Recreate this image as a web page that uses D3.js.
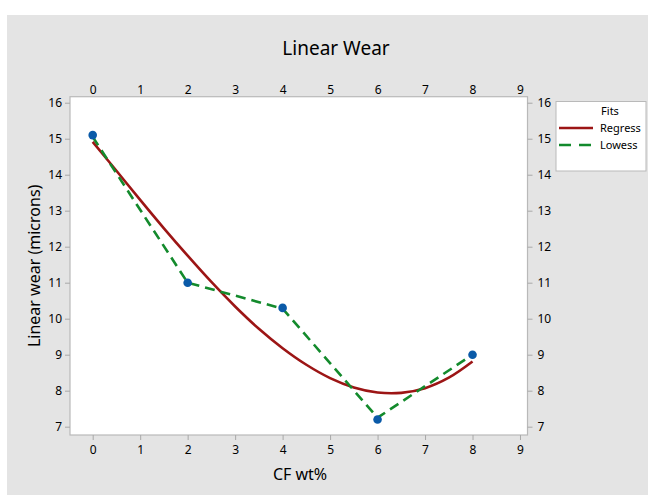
<!DOCTYPE html>
<html><head><meta charset="utf-8">
<script src="https://cdn.jsdelivr.net/npm/d3@7"></script>
<style>body{margin:0;background:#fff}svg{display:block}text{font-family:"Noto Sans","Open Sans",sans-serif}</style>
</head><body><svg id="c" width="648" height="495"></svg>
<script>
// Observed data
const cfWt = [0, 2, 4, 6, 8];
const wear = [15.1, 11.0, 10.3, 7.2, 9.0];
// Regression fit curve
const regX = [0, 0.5, 1, 1.5, 2, 2.5, 3, 3.5, 4, 4.5, 5, 5.5, 6, 6.5, 7, 7.5, 8];
const regY = [14.91, 14.11, 13.30, 12.51, 11.75, 11.02, 10.34, 9.72, 9.18, 8.72, 8.35, 8.09, 7.95, 7.94, 8.07, 8.36, 8.81];
// Lowess fit
const lowX = [0, 2, 4, 6, 8];
const lowY = [15.05, 11.0, 10.28, 7.25, 9.0];
const xTicks = [0,1,2,3,4,5,6,7,8,9];
const yTicks = [7,8,9,10,11,12,13,14,15,16];
const legendItems = ["Regress", "Lowess"];

const svg = d3.select("#c");
svg.append("rect").attr("x",7).attr("y",15).attr("width",641).attr("height",480).attr("fill","#e4e4e4");

const L=70, R=527.5, T=96.7, B=435;
const x = d3.scaleLinear().domain([-0.478, 9.158]).range([L, R]);
const y = d3.scaleLinear().domain([6.769, 16.167]).range([B, T]);

svg.append("rect").attr("x",L).attr("y",T).attr("width",R-L).attr("height",B-T)
  .attr("fill","#fff").attr("stroke","#b9b9b9").attr("stroke-width",1.2);

function styleAxis(g){
  g.select(".domain").remove();
  g.selectAll(".tick line").attr("stroke","#a8a8a8");
  g.selectAll(".tick text").attr("fill","#000").style("font-size","12px");
}
svg.append("g").attr("transform",`translate(0,${B})`)
  .call(d3.axisBottom(x).tickValues(xTicks).tickSize(5).tickPadding(5)).call(styleAxis);
svg.append("g").attr("transform",`translate(0,${T})`)
  .call(d3.axisTop(x).tickValues(xTicks).tickSize(0).tickPadding(3)).call(styleAxis);
svg.append("g").attr("transform",`translate(${L},0)`)
  .call(d3.axisLeft(y).tickValues(yTicks).tickSize(5).tickPadding(3)).call(styleAxis);
svg.append("g").attr("transform",`translate(${R},0)`)
  .call(d3.axisRight(y).tickValues(yTicks).tickSize(5).tickPadding(5)).call(styleAxis);

const regPts = regX.map((v,i)=>[v,regY[i]]);
const lowPts = lowX.map((v,i)=>[v,lowY[i]]);
svg.append("path").attr("d", d3.line().x(d=>x(d[0])).y(d=>y(d[1])).curve(d3.curveCatmullRom)(regPts))
  .attr("fill","none").attr("stroke","#9c1515").attr("stroke-width",2.6);
svg.append("path").attr("d", d3.line().x(d=>x(d[0])).y(d=>y(d[1]))(lowPts))
  .attr("fill","none").attr("stroke","#138a2c").attr("stroke-width",2.6).attr("stroke-dasharray","10,6");
svg.selectAll("circle.pt").data(cfWt.map((v,i)=>[v,wear[i]])).join("circle")
  .attr("cx",d=>x(d[0])).attr("cy",d=>y(d[1])).attr("r",4.3).attr("fill","#0a5aa8");

svg.append("text").attr("x",336).attr("y",55).attr("text-anchor","middle")
  .style("font-size","19px").attr("fill","#000").text("Linear Wear");
svg.append("text").attr("x",300).attr("y",480).attr("text-anchor","middle")
  .style("font-size","16px").attr("fill","#000").text("CF wt%");
svg.append("text").attr("transform",`translate(40,${(T+B)/2}) rotate(-90)`).attr("text-anchor","middle")
  .style("font-size","16px").attr("fill","#000").text("Linear wear (microns)");

// Legend
const lg = svg.append("g");
lg.append("rect").attr("x",556).attr("y",101.5).attr("width",90).attr("height",69.5)
  .attr("fill","#fff").attr("stroke","#b9b9b9");
lg.append("text").attr("x",610).attr("y",115).attr("text-anchor","middle").style("font-size","11px").attr("fill","#000").text("Fits");
const colors = ["#9c1515","#138a2c"], dashes = [null,"12,8"];
legendItems.forEach((t,i)=>{
  const yy = 128 + i*17;
  lg.append("line").attr("x1",559).attr("x2",593).attr("y1",yy).attr("y2",yy)
    .attr("stroke",colors[i]).attr("stroke-width",2.6).attr("stroke-dasharray",dashes[i]);
  lg.append("text").attr("x",600).attr("y",yy+4).style("font-size","11px").attr("fill","#000").text(t);
});
</script></body></html>
